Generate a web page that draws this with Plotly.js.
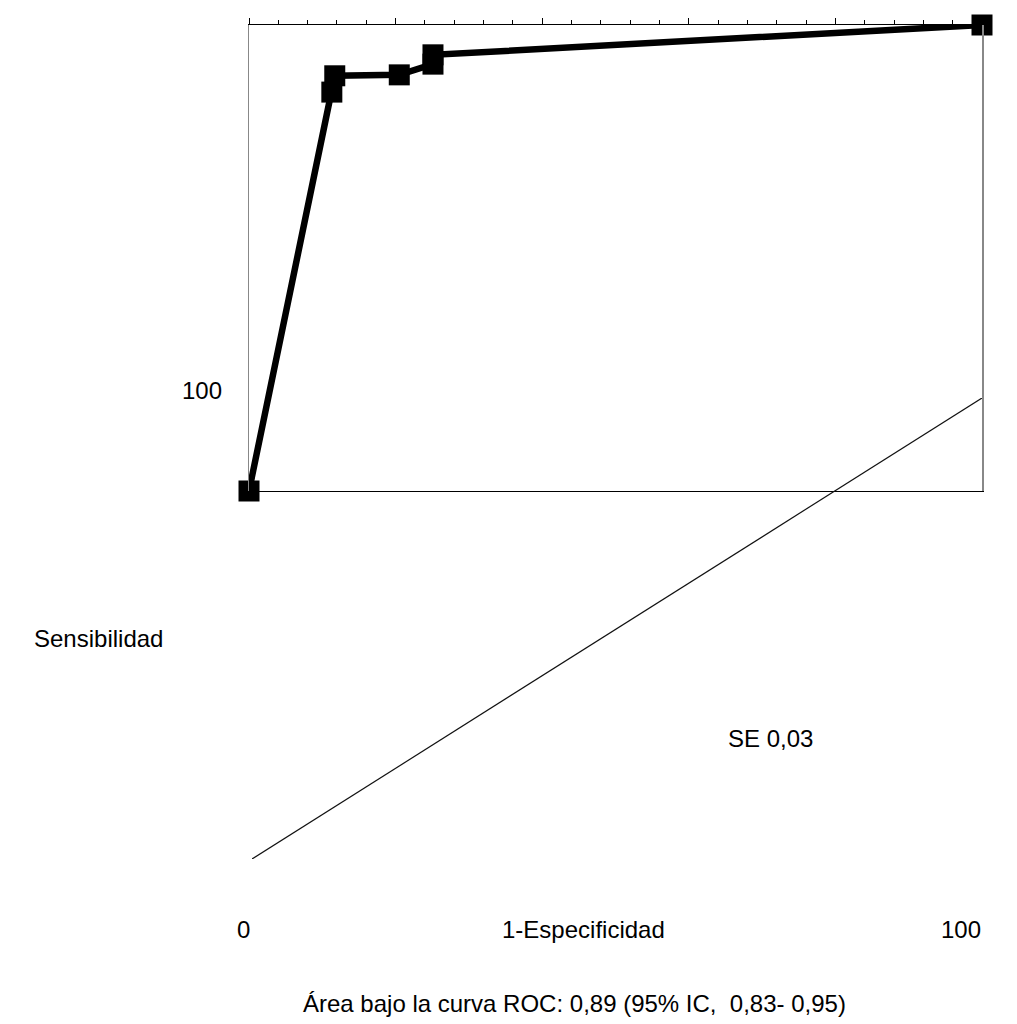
<!DOCTYPE html>
<html>
<head>
<meta charset="utf-8">
<script src="https://cdn.plot.ly/plotly-3.0.1.min.js"></script>
<style>html,body{margin:0;padding:0;background:#fff;}#chart{width:1017px;height:1024px;}</style>
</head>
<body>
<div id="chart"></div>
<script>
// ROC curve points: 1-Especificidad (%) vs Sensibilidad (%)
const rocX = [0, 11.3, 11.7, 20.5, 25.1, 25.1, 100];
const rocY = [0, 85.6, 89.1, 89.3, 91.6, 93.6, 100];
// Reference diagonal
const diagX = [0, 100];
const diagY = [0, 100];
// Texts
const yTickTop = "100";
const yTitle = "Sensibilidad";
const seText = "SE 0,03";
const xTickLow = "0";
const xTitle = "1-Especificidad";
const xTickHigh = "100";
const aucText = "Área bajo la curva ROC: 0,89 (95% IC,  0,83- 0,95)";

const W = 1017, H = 1024;
const px = v => v / W;
const py = v => 1 - v / H;
const FONT = {family: "Liberation Sans, Arial, sans-serif", size: 24, color: "#000"};

const traces = [
  {x: diagX, y: diagY, xaxis: "x2", yaxis: "y2", mode: "lines",
   line: {color: "#111", width: 1.2}, hoverinfo: "skip", cliponaxis: false},
  {x: rocX, y: rocY, xaxis: "x", yaxis: "y", mode: "lines+markers",
   line: {color: "#000", width: 6.5},
   marker: {symbol: "square", size: 21, color: "#000"},
   cliponaxis: false}
];

function ann(text, x, y) {
  return {text: text, x: px(x), y: py(y), xref: "paper", yref: "paper",
          showarrow: false, font: FONT, xanchor: "center", yanchor: "middle"};
}

const layout = {
  width: W, height: H,
  margin: {l: 0, r: 0, t: 0, b: 0},
  paper_bgcolor: "#fff", plot_bgcolor: "rgba(0,0,0,0)",
  showlegend: false,
  xaxis: {
    domain: [px(249), px(982)], range: [0, 100], anchor: "y", side: "top",
    showline: true, linecolor: "#000", linewidth: 1.2, mirror: true,
    showgrid: false, zeroline: false, showticklabels: false,
    ticks: "outside", tick0: 0, dtick: 20, ticklen: 6, tickwidth: 1, tickcolor: "#000",
    minor: {ticks: "outside", dtick: 4, tick0: 0, ticklen: 4, tickwidth: 1, tickcolor: "#000", showgrid: false}
  },
  yaxis: {
    domain: [py(491), py(25)], range: [0, 100], anchor: "x",
    showline: true, linecolor: "#888", linewidth: 1.5, mirror: true,
    showgrid: false, zeroline: false, showticklabels: false, ticks: ""
  },
  xaxis2: {
    domain: [px(252), px(982)], range: [0, 100], anchor: "y2",
    visible: false, showgrid: false, zeroline: false
  },
  yaxis2: {
    domain: [py(859), py(398)], range: [0, 100], anchor: "x2",
    visible: false, showgrid: false, zeroline: false
  },
  annotations: [
    ann(yTickTop, 202, 390),
    ann(yTitle, 98, 638),
    ann(seText, 770, 738),
    ann(xTickLow, 243, 929),
    ann(xTitle, 583, 929),
    ann(xTickHigh, 961, 929),
    ann(aucText, 574, 1003)
  ]
};

Plotly.newPlot("chart", traces, layout, {staticPlot: true, displayModeBar: false});
</script>
</body>
</html>
